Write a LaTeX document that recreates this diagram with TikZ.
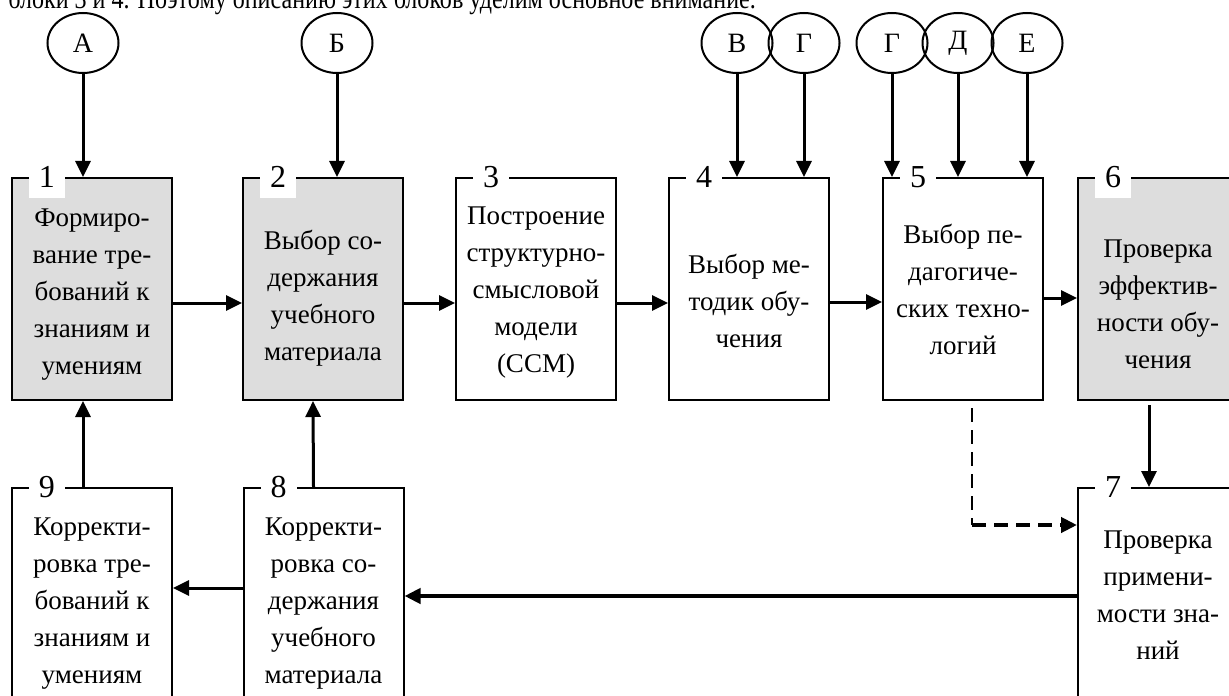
\documentclass[tikz,border=0pt]{standalone}
\usepackage{fontspec}
\setmainfont{Liberation Serif}
\usetikzlibrary{shapes.geometric,arrows.meta}
\definecolor{blockgray}{RGB}{221,221,221}
\newcommand{\boxpad}[1]{\rule{0pt}{#1}}
\begin{document}
\begin{tikzpicture}[x=0.5pt,y=-0.5pt]
		    \tikzstyle{block}=[draw,line width=1pt,minimum width=80pt,minimum height=111pt,align=center,inner sep=0pt,font=\fontsize{13.5}{18.5}\selectfont]
		    \tikzstyle{shaded}=[block,fill=blockgray]
		    \tikzstyle{num}=[fill=white,inner sep=0pt,minimum width=18pt,minimum height=21pt,font=\fontsize{16}{16}\selectfont]
		    \tikzstyle{letter}=[ellipse,draw,line width=1pt,minimum width=35.5pt,minimum height=30pt,inner sep=0pt,font=\fontsize{14}{14}\selectfont]
		    \tikzstyle{arr}=[line width=1.5pt,-{Triangle[length=8pt,width=7.5pt]}]
		    \clip (0,0) rectangle (1229,695);
		    % text line cut by the page edge
		    \node[anchor=base west,inner sep=0pt,font=\fontsize{14.5}{14.5}\selectfont] (intro) at (8,9) {\scalebox{0.83}[1]{блоки 3 и 4. Поэтому описанию этих блоков уделим основное внимание.}};
		    % upper row
		    \node[shaded] (b1) at (92,289) {\boxpad{14pt}Формиро-\\вание тре-\\бований к\\знаниям и\\умениям};
		    \node[shaded] (b2) at (323,289) {\boxpad{19.3pt}Выбор со-\\держания\\учебного\\материала};
		    \node[block] (b3) at (536,289) {\boxpad{12pt}Построение\\структурно-\\смысловой\\модели\\(ССМ)};
		    \node[block] (b4) at (749,289) {\boxpad{21.3pt}Выбор ме-\\тодик обу-\\чения};
		    \node[block] (b5) at (963,289) {Выбор пе-\\дагогиче-\\ских техно-\\логий};
		    \node[shaded] (b6) at (1158,289) {\boxpad{24pt}Проверка\\эффектив-\\ности обу-\\чения};
		    % lower row
		    \node[block] (b9) at (92,599) {\boxpad{13pt}Корректи-\\ровка тре-\\бований к\\знаниям и\\умениям};
		    \node[block] (b8) at (323.5,599) {\boxpad{13pt}Корректи-\\ровка со-\\держания\\учебного\\материала};
		    \node[block] (b7) at (1158,599) {Проверка\\примени-\\мости зна-\\ний\rule[-4pt]{0pt}{4pt}};
		    % numbers
		    \node[num] (n1) at ([xshift=18pt]b1.north west) {1};
		    \node[num] (n2) at ([xshift=18pt]b2.north west) {2};
		    \node[num] (n3) at ([xshift=18pt]b3.north west) {3};
		    \node[num] (n4) at ([xshift=18pt]b4.north west) {4};
		    \node[num] (n5) at ([xshift=18pt]b5.north west) {5};
		    \node[num] (n6) at ([xshift=18pt]b6.north west) {6};
		    \node[num] (n7) at ([xshift=18pt]b7.north west) {7};
		    \node[num] (n8) at ([xshift=18pt]b8.north west) {8};
		    \node[num] (n9) at ([xshift=18pt]b9.north west) {9};
		    % inputs
		    \node[letter] (A) at (83,43) {А};
		    \node[letter] (B) at (337,43) {Б};
		    \node[letter] (V) at (737,43) {В};
		    \node[letter] (G) at (804,43) {Г};
		    \node[letter] (G2) at (892,43) {Г};
		    \node[letter] (D) at (958,43) {Д};
		    \node[letter] (E) at (1027,43) {Е};
		    \draw[arr] (A.south) -- (A.south |- b1.north);
		    \draw[arr] (B.south) -- (B.south |- b2.north);
		    \draw[arr] (V.south) -- (V.south |- b4.north);
		    \draw[arr] (G.south) -- (G.south |- b4.north);
		    \draw[arr] (G2.south) -- (G2.south |- b5.north);
		    \draw[arr] (D.south) -- (D.south |- b5.north);
		    \draw[arr] (E.south) -- (E.south |- b5.north);
		    % main chain
		    \draw[arr] ([yshift=-7pt]b1.east) -- ([yshift=-7pt]b2.west);
		    \draw[arr] ([yshift=-7pt]b2.east) -- ([yshift=-7pt]b3.west);
		    \draw[arr] ([yshift=-7pt]b3.east) -- ([yshift=-7pt]b4.west);
		    \draw[arr] ([yshift=-6.5pt]b4.east) -- ([yshift=-6.5pt]b5.west);
		    \draw[arr] ([yshift=-4.5pt]b5.east) -- ([yshift=-4.5pt]b6.west);
		    \draw[arr,shorten <=2pt] ([xshift=-4.5pt]b6.south) -- ([xshift=-4.5pt]b7.north);
		    % dashed link 5 -> 7
		    \coordinate (d1) at ([xshift=4.5pt,yshift=-3.5pt]b5.south);
		    \coordinate (d2) at ([yshift=37pt]b7.west);
		    \draw[line width=1pt,dash pattern=on 7pt off 4pt] (d1) -- (d1 |- d2);
		    \draw[arr,line width=2pt,dash pattern=on 7pt off 4pt] (d1 |- d2) -- (d2);
		    % feedback
		    \draw[arr,line width=2pt] ([yshift=1.5pt]b7.west) -- ([yshift=1.5pt]b8.east);
		    \draw[arr] ([yshift=5.5pt]b8.west) -- ([yshift=5.5pt]b9.east);
		    \draw[arr] ([xshift=-4.5pt]b9.north) -- ([xshift=-4.5pt]b1.south);
		    \draw[arr] ([xshift=-5pt]b8.north) -- ([xshift=-5pt]b2.south);
\end{tikzpicture}
\end{document}
